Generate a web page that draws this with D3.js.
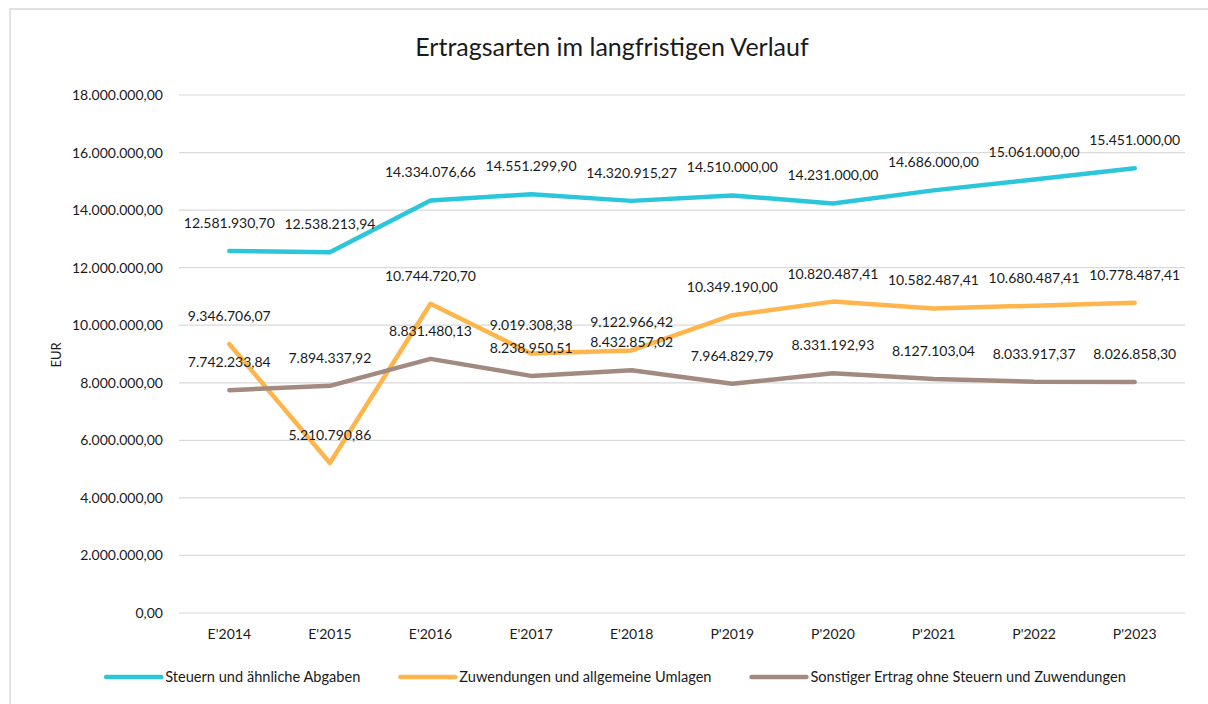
<!DOCTYPE html>
<html>
<head>
<meta charset="utf-8">
<script src="https://cdn.jsdelivr.net/npm/d3@7"></script>
<style>
    body { margin: 0; background: #fff; }
    svg text { font-family: Lato, "Open Sans", sans-serif; fill: #1a1a1a; }
</style>
</head>
<body>
<div id="chart"></div>
<script>
/** Données */
var categories = ["E'2014", "E'2015", "E'2016", "E'2017", "E'2018", "P'2019", "P'2020", "P'2021", "P'2022", "P'2023"];
var steuern = [12581930.70, 12538213.94, 14334076.66, 14551299.90, 14320915.27, 14510000.00, 14231000.00, 14686000.00, 15061000.00, 15451000.00];
var zuwendungen = [9346706.07, 5210790.86, 10744720.70, 9019308.38, 9122966.42, 10349190.00, 10820487.41, 10582487.41, 10680487.41, 10778487.41];
var sonstiger = [7742233.84, 7894337.92, 8831480.13, 8238950.51, 8432857.02, 7964829.79, 8331192.93, 8127103.04, 8033917.37, 8026858.30];
var yTicks = [0, 2000000, 4000000, 6000000, 8000000, 10000000, 12000000, 14000000, 16000000, 18000000];
var seriesNames = ["Steuern und ähnliche Abgaben", "Zuwendungen und allgemeine Umlagen", "Sonstiger Ertrag ohne Steuern und Zuwendungen"];
var seriesColors = ["#2bc6da", "#ffb54c", "#a38a80"];

var series = [steuern, zuwendungen, sonstiger].map(function (vals, i) {
    return { name: seriesNames[i], color: seriesColors[i], values: vals };
});

/** Format allemand */
var de = d3.formatLocale({ decimal: ",", thousands: ".", grouping: [3], currency: ["", " €"] });
var fmt = de.format(",.2f");

var width = 1208,
    height = 704;

var svg = d3.select("#chart")
    .append("svg")
    .attr("width", width)
    .attr("height", height);

// cadre du graphique
svg.append("rect")
    .attr("x", 10)
    .attr("y", 9)
    .attr("width", 1210)
    .attr("height", 710)
    .attr("fill", "none")
    .attr("stroke", "#d9d9d9")
    .attr("stroke-width", 1.5);

var x = d3.scaleBand().domain(categories).range([179, 1185]);
var y = d3.scaleLinear().domain([0, 18000000]).range([613, 95]);

// titre
svg.append("text")
    .attr("x", 612)
    .attr("y", 56)
    .attr("text-anchor", "middle")
    .style("font-size", "25px")
    .text("Ertragsarten im langfristigen Verlauf");

// grille
svg.append("g")
    .selectAll("line")
    .data(yTicks)
    .enter()
    .append("line")
    .attr("x1", 179)
    .attr("x2", 1185)
    .attr("y1", function (d) { return y(d); })
    .attr("y2", function (d) { return y(d); })
    .attr("stroke", "#d9d9d9")
    .attr("stroke-width", 1.2);

// axe Y
var yAxis = svg.append("g")
    .attr("transform", "translate(179,0)")
    .call(d3.axisLeft(y).tickValues(yTicks).tickFormat(fmt).tickSize(0).tickPadding(16));
yAxis.select(".domain").remove();
yAxis.selectAll("text").style("font-size", "14px").style("fill", "#1a1a1a");

// axe X
var xAxis = svg.append("g")
    .attr("transform", "translate(0,613)")
    .call(d3.axisBottom(x).tickSize(0).tickPadding(16));
xAxis.select(".domain").remove();
xAxis.selectAll("text").style("font-size", "14px").style("fill", "#1a1a1a");

// titre axe Y
svg.append("text")
    .attr("transform", "translate(61,355) rotate(-90)")
    .attr("text-anchor", "middle")
    .style("font-size", "13px")
    .text("EUR");

var line = d3.line()
    .x(function (d, i) { return x(categories[i]) + x.bandwidth() / 2; })
    .y(function (d) { return y(d); });

// courbes
svg.append("g")
    .selectAll("path")
    .data(series)
    .enter()
    .append("path")
    .attr("d", function (d) { return line(d.values); })
    .attr("fill", "none")
    .attr("stroke", function (d) { return d.color; })
    .attr("stroke-width", 4.5)
    .attr("stroke-linejoin", "round")
    .attr("stroke-linecap", "round");

// étiquettes de données
series.forEach(function (s) {
    svg.append("g")
        .selectAll("text")
        .data(s.values)
        .enter()
        .append("text")
        .attr("x", function (d, i) { return x(categories[i]) + x.bandwidth() / 2; })
        .attr("y", function (d) { return y(d) - 23; })
        .attr("text-anchor", "middle")
        .style("font-size", "14px")
        .text(function (d) { return fmt(d); });
});

// légende
var legend = svg.append("g");
var items = legend.selectAll("g")
    .data(series)
    .enter()
    .append("g");
items.append("line")
    .attr("x1", 0)
    .attr("x2", 55)
    .attr("y1", 0)
    .attr("y2", 0)
    .attr("stroke", function (d) { return d.color; })
    .attr("stroke-width", 4.5)
    .attr("stroke-linecap", "round");
items.append("text")
    .attr("x", 59)
    .attr("y", 5)
    .style("font-size", "14.6px")
    .text(function (d) { return d.name; });

var gap = 40;
var offsets = [];
var pos = 0;
items.each(function () {
    offsets.push(pos);
    pos += this.getBBox().width + gap;
});
var total = pos - gap;
var start = 616 - total / 2;
items.attr("transform", function (d, i) {
    return "translate(" + (start + offsets[i]) + ",677)";
});
</script>
</body>
</html>
